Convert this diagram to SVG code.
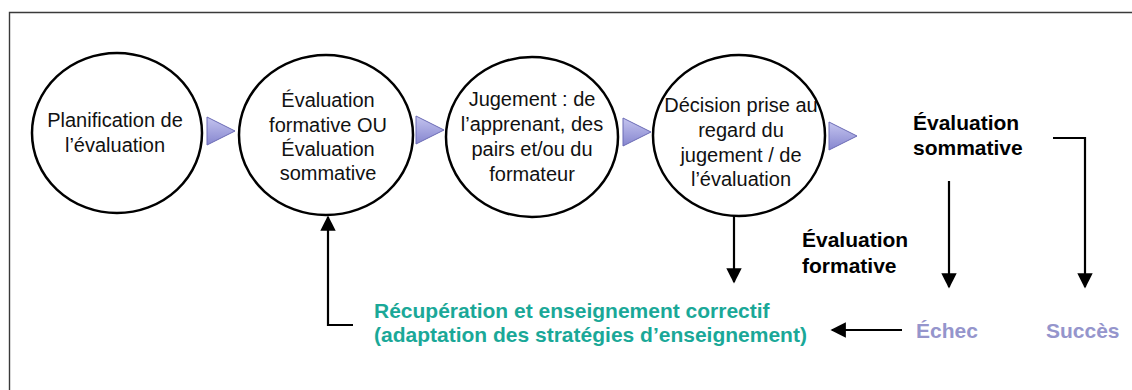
<svg xmlns="http://www.w3.org/2000/svg" width="1132" height="390" viewBox="0 0 1132 390">
<defs>
<linearGradient id="tri" x1="0" y1="0" x2="0" y2="1">
<stop offset="0" stop-color="#c4c4ef"/>
<stop offset="1" stop-color="#8686cf"/>
</linearGradient>
<marker id="ah" viewBox="0 0 10 10" refX="9" refY="5" markerWidth="7" markerHeight="7" markerUnits="strokeWidth" orient="auto">
<path d="M0,0 L10,5 L0,10 Z" fill="#000"/>
</marker>
<style>
.c{fill:#fff;stroke:#000;stroke-width:2.5}
.t{font-family:"Liberation Sans",Arial,sans-serif;font-size:20px;fill:#111;text-anchor:middle}
.b{font-family:"Liberation Sans",Arial,sans-serif;font-size:21px;font-weight:bold;fill:#000}
.g{fill:#1aa898}
.p{fill:#9595cc}
.tr{fill:url(#tri);stroke:#6b6bb5;stroke-width:1}
.ln{fill:none;stroke:#000;stroke-width:2.2;marker-end:url(#ah)}
</style>
</defs>
<rect width="1132" height="390" fill="#fff"/>
<path d="M9.5,395 V12.5 H1140" fill="none" stroke="#3a3a3a" stroke-width="1.4"/>

<g id="n1">
<ellipse class="c" cx="117" cy="133" rx="85" ry="80"/>
<text class="t" x="115" y="127">Planification de</text>
<text class="t" x="115" y="152">l’évaluation</text>
</g>
<g id="n2">
<ellipse class="c" cx="326" cy="135" rx="87" ry="80"/>
<text class="t" x="328" y="107">Évaluation</text>
<text class="t" x="328" y="132">formative OU</text>
<text class="t" x="328" y="156">Évaluation</text>
<text class="t" x="328" y="180">sommative</text>
</g>
<g id="n3">
<ellipse class="c" cx="532" cy="137" rx="86" ry="80"/>
<text class="t" x="532" y="106">Jugement : de</text>
<text class="t" x="532" y="131">l’apprenant, des</text>
<text class="t" x="532" y="156">pairs et/ou du</text>
<text class="t" x="532" y="181">formateur</text>
</g>
<g id="n4">
<ellipse class="c" cx="739" cy="135.5" rx="86" ry="80.5"/>
<text class="t" x="741" y="112">Décision prise au</text>
<text class="t" x="741" y="137">regard du</text>
<text class="t" x="741" y="162">jugement / de</text>
<text class="t" x="741" y="186">l’évaluation</text>
</g>
<g id="n5">
<text class="b" x="913" y="130">Évaluation</text>
<text class="b" x="913" y="155">sommative</text>
</g>
<g id="n6">
<text class="b" x="802" y="247">Évaluation</text>
<text class="b" x="802" y="273">formative</text>
</g>
<g id="n7">
<text class="b g" x="374" y="318">Récupération et enseignement correctif</text>
<text class="b g" x="374" y="342">(adaptation des stratégies d’enseignement)</text>
</g>
<g id="n8">
<text class="b p" x="916" y="338">Échec</text>
</g>
<g id="n9">
<text class="b p" x="1046" y="338">Succès</text>
</g>

<g id="connectors">
<polygon class="tr" points="207,117 235,131 207,145"/>
<polygon class="tr" points="416,116 444,130 416,144"/>
<polygon class="tr" points="623,118 651,132 623,146"/>
<polygon class="tr" points="829,122 857,136 829,150"/>
<path class="ln" d="M734,216 V282"/>
<path class="ln" d="M949,181 V287"/>
<path class="ln" d="M1053,138 H1085 V287"/>
<path class="ln" d="M902,330 H832"/>
<path class="ln" d="M353,325 H328 V217"/>
</g>
</svg>
